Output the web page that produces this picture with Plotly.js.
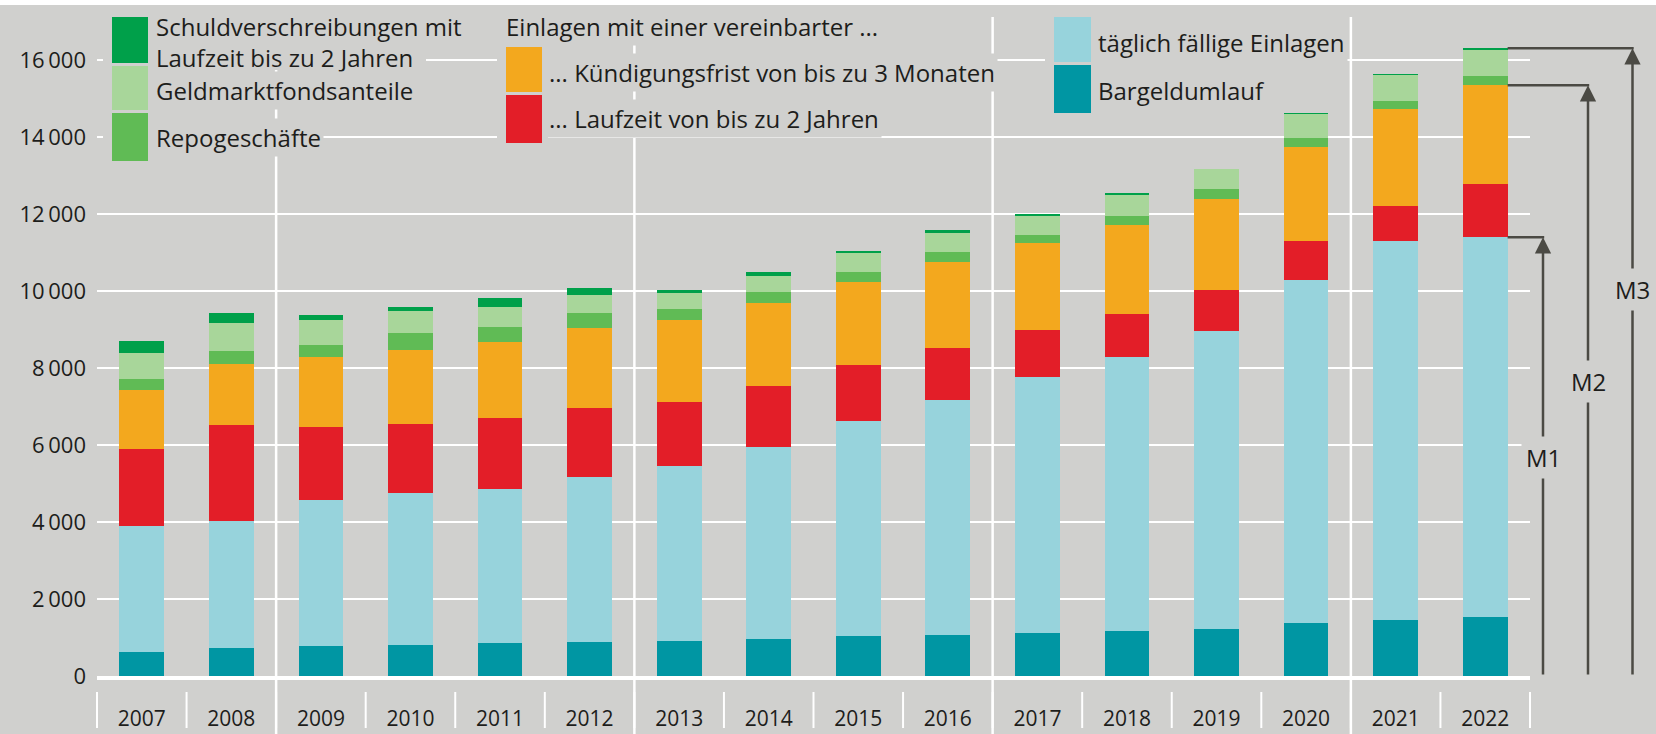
<!DOCTYPE html>
<html><head><meta charset="utf-8">
<script src="https://cdn.plot.ly/plotly-3.0.1.min.js"></script>
<style>
html,body{margin:0;padding:0;background:#ffffff;}
#chart{position:absolute;left:0;top:5px;width:1656px;height:729px;}
</style></head><body><div id="chart"></div>
<script>
// ---------- data ----------
const years = ['2007','2008','2009','2010','2011','2012','2013','2014','2015','2016','2017','2018','2019','2020','2021','2022'];
const bargeldumlauf = [635, 722, 774, 809, 852, 878, 922, 965, 1035, 1078, 1113, 1165, 1217, 1365, 1461, 1530];
const taeglichFaellig = [3261, 3313, 3789, 3953, 4014, 4300, 4524, 4974, 5588, 6100, 6662, 7121, 7744, 8912, 9838, 9864];
const laufzeit2J = [2009, 2493, 1905, 1792, 1844, 1792, 1671, 1593, 1446, 1341, 1203, 1125, 1065, 1022, 909, 1377];
const kuendigung3M = [1532, 1576, 1809, 1922, 1965, 2078, 2130, 2148, 2156, 2226, 2260, 2303, 2372, 2450, 2511, 2571];
const repogeschaefte = [277, 329, 320, 442, 399, 381, 285, 285, 269, 259, 208, 243, 243, 216, 225, 251];
const geldmarktfonds = [667, 727, 658, 554, 519, 467, 416, 425, 484, 511, 502, 528, 519, 641, 658, 658];
const schuldverschr = [312, 269, 130, 121, 217, 182, 78, 104, 61, 78, 61, 52, 10, 14, 34, 52];
const yTickVals = [0, 2000, 4000, 6000, 8000, 10000, 12000, 14000, 16000];
const yTickText = ['0', '2\u2009000', '4\u2009000', '6\u2009000', '8\u2009000', '10\u2009000', '12\u2009000', '14\u2009000', '16\u2009000'];
const names = {
  schuld1: 'Schuldverschreibungen mit',
  schuld2: 'Laufzeit bis zu 2 Jahren',
  geld: 'Geldmarktfondsanteile',
  repo: 'Repogeschäfte',
  header: 'Einlagen mit einer vereinbarter ...',
  kuend: '... Kündigungsfrist von bis zu 3 Monaten',
  lauf: '... Laufzeit von bis zu 2 Jahren',
  taeg: 'täglich fällige Einlagen',
  barg: 'Bargeldumlauf'
};

// ---------- styles ----------
const BG = '#d0d0ce';
const TXT = '#1d1d1b';
const ARROW = '#4b4a44';
const FONT = '"Open Sans", "Noto Sans", sans-serif';
const LEGSIZE = 24;
const C = {
  barg: '#0096a3', taeg: '#97d3dc', lauf: '#e31e28', kuend: '#f3a81e',
  repo: '#60bb55', geld: '#a8d69a', schuld: '#00a04a'
};

const W = 1656, H = 729, TOP = 5;
const ML = 97, MR = 1656 - 1530, MT = 0, MB = 6;
const plotW = W - ML - MR, plotH = H - MT - MB;
const px = X => (X - ML) / plotW;              // image px -> paper x
const py = Y => (H - MB - (Y - TOP)) / plotH;  // image px -> paper y
const PXPERUNIT = 77 / 2000;
const ZEROY = 676;
const BARW = 0.5;

function bar(y, name, color) {
  return {type: 'bar', x: years, y: y, name: name, marker: {color: color, line: {width: 0}},
          hoverinfo: 'x+y+name'};
}
const traces = [
  bar(bargeldumlauf, names.barg, C.barg),
  bar(taeglichFaellig, names.taeg, C.taeg),
  bar(laufzeit2J, names.lauf, C.lauf),
  bar(kuendigung3M, names.kuend, C.kuend),
  bar(repogeschaefte, names.repo, C.repo),
  bar(geldmarktfonds, names.geld, C.geld),
  bar(schuldverschr, names.schuld1 + ' ' + names.schuld2, C.schuld)
];

const n = years.length;
const shapes = [];
const annotations = [];

// 4-year separators (full height)
for (let i = 2; i < n; i += 4) {
  shapes.push({type: 'line', xref: 'paper', yref: 'paper', x0: i / n, x1: i / n,
    y0: py(740), y1: py(17), line: {color: '#ffffff', width: 2.5}, layer: 'below'});
}
// boundary ticks under the axis
for (let i = 0; i <= n; i++) {
  shapes.push({type: 'line', xref: 'paper', yref: 'paper', x0: i / n, x1: i / n,
    y0: py(728), y1: py(692), line: {color: '#ffffff', width: 2}, layer: 'below'});
}

// gray backdrop behind the two-line legend text
shapes.push({type: 'rect', xref: 'paper', yref: 'paper', x0: px(152), x1: px(426),
  y0: py(70), y1: py(15), fillcolor: BG, line: {width: 0}, layer: 'above'});

// legend swatches
function swatch(x0, x1, y0, y1, color) {
  shapes.push({type: 'rect', xref: 'paper', yref: 'paper', x0: px(x0 - 9), x1: px(x1 + 6),
    y0: py(y1 + 3), y1: py(y0 - 3), fillcolor: BG, line: {width: 0}, layer: 'above'});
  shapes.push({type: 'rect', xref: 'paper', yref: 'paper', x0: px(x0), x1: px(x1),
    y0: py(y1), y1: py(y0), fillcolor: color, line: {width: 0}, layer: 'above'});
}
function label(X, Y, text, bg) {
  annotations.push({xref: 'paper', yref: 'paper', x: px(X - 3), y: py(Y), xanchor: 'left', yanchor: 'middle',
    text: text, showarrow: false, align: 'left', bgcolor: bg === false ? 'rgba(0,0,0,0)' : BG, borderpad: 2,
    font: {family: FONT, size: LEGSIZE, color: TXT}});
}
// group 1
swatch(112, 148, 17, 66, C.schuld);
swatch(112, 148, 66, 113, C.geld);
swatch(112, 148, 113, 161, C.repo);
label(156, 42, names.schuld1 + '<br>' + names.schuld2, false);
label(156, 90, names.geld);
label(156, 137, names.repo);
// group 2
label(506, 26, names.header);
swatch(506, 542, 47, 95, C.kuend);
swatch(506, 542, 95, 143, C.lauf);
label(549, 72, names.kuend);
label(549, 118, names.lauf);
// group 3
swatch(1054, 1091, 17, 65, C.taeg);
swatch(1054, 1091, 65, 113, C.barg);
label(1098, 42, names.taeg);
label(1098, 90, names.barg);

// M1 / M2 / M3 arrows for the last year
const last = n - 1;
const M1 = bargeldumlauf[last] + taeglichFaellig[last];
const M2 = M1 + laufzeit2J[last] + kuendigung3M[last];
const M3 = M2 + repogeschaefte[last] + geldmarktfonds[last] + schuldverschr[last];
const barRight = (last + 0.5 + BARW / 2) / n;
const arrows = [
  {m: M1, X: 1543, name: 'M1', labY: 457},
  {m: M2, X: 1588, name: 'M2', labY: 382},
  {m: M3, X: 1632.5, name: 'M3', labY: 289}
];
arrows.forEach(a => {
  shapes.push({type: 'line', xref: 'paper', yref: 'y', x0: barRight, x1: px(a.X + 1.2),
    y0: a.m, y1: a.m, line: {color: ARROW, width: 2.5}, layer: 'above'});
  annotations.push({xref: 'paper', yref: 'y', x: px(a.X), y: a.m, axref: 'pixel', ax: 0,
    ayref: 'y', ay: 0, text: '', showarrow: true, arrowhead: 2, arrowsize: 1.3,
    arrowwidth: 2.5, arrowcolor: ARROW, standoff: 0});
});
arrows.forEach(a => {
  annotations.push({xref: 'paper', yref: 'paper', x: px(a.X), y: py(a.labY), xanchor: 'center',
    yanchor: 'middle', text: a.name, showarrow: false, bgcolor: BG, borderpad: 4,
    font: {family: FONT, size: LEGSIZE, color: TXT}});
});

const layout = {
  width: W, height: H,
  margin: {l: ML, r: MR, t: MT, b: MB, pad: 0},
  paper_bgcolor: BG, plot_bgcolor: BG,
  barmode: 'stack', bargap: 1 - BARW,
  showlegend: false,
  font: {family: FONT, size: 22, color: TXT},
  xaxis: {type: 'category', range: [-0.5, n - 0.5], showgrid: false, zeroline: false,
    showline: true, linecolor: '#ffffff', linewidth: 4, ticks: '', ticklabelstandoff: 21,
    tickfont: {family: FONT, size: 21, color: TXT}, fixedrange: true},
  yaxis: {domain: [py(ZEROY), 1], range: [0, (ZEROY - TOP) / PXPERUNIT],
    tickmode: 'array', tickvals: yTickVals, ticktext: yTickText,
    showgrid: true, gridcolor: '#ffffff', gridwidth: 2, zeroline: false, showline: false,
    ticks: '', ticklabelstandoff: 10, tickfont: {family: FONT, size: 22, color: TXT}, fixedrange: true},
  shapes: shapes,
  annotations: annotations
};

Plotly.newPlot('chart', traces, layout, {displayModeBar: false, staticPlot: true});
</script></body></html>
